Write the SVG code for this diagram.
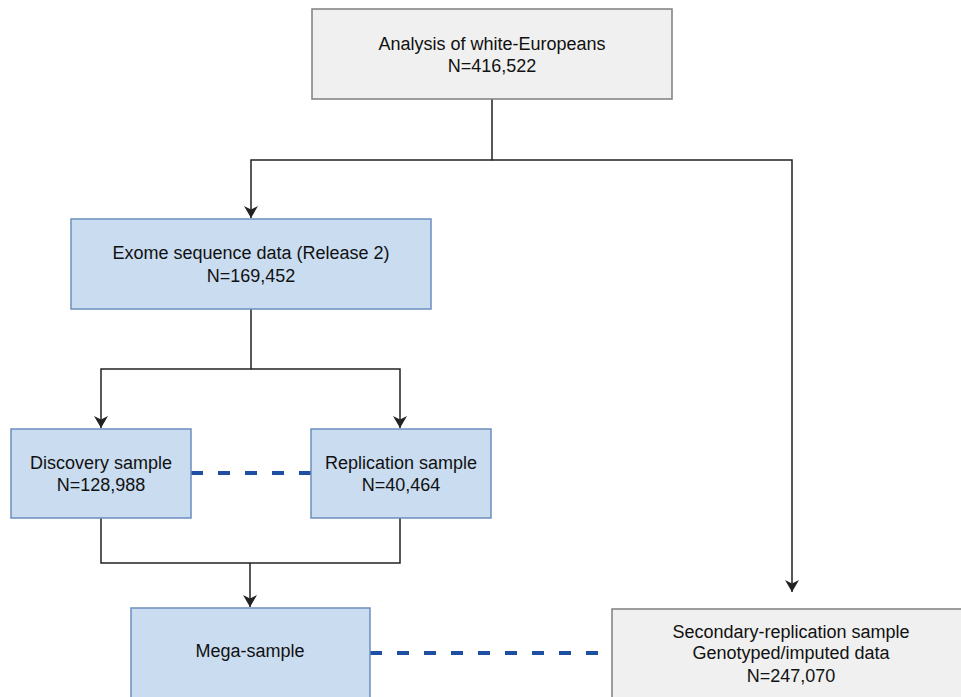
<svg xmlns="http://www.w3.org/2000/svg" width="961" height="697" viewBox="0 0 961 697">
<style>
.blue{fill:#c9dcf0;stroke:#6c8ebf;stroke-width:1.5}
.grey{fill:#eff0ef;stroke:#7f7f7f;stroke-width:1.5}
.t{font-family:"Liberation Sans",Arial,sans-serif;font-size:18px;fill:#111;text-anchor:middle}
.c{fill:none;stroke:#222;stroke-width:1.5}
.d{fill:none;stroke:#1f4fa3;stroke-width:4;stroke-dasharray:12 15}
</style>
<defs>
<marker id="ah" markerWidth="14" markerHeight="14" refX="12" refY="7" orient="auto" markerUnits="userSpaceOnUse">
<path d="M0,0 L12,7 L0,14 L3.5,7 Z" fill="#222"/>
</marker>
</defs>
<rect width="961" height="697" fill="#fff"/>
<g id="connectors">
<path class="c" d="M492,99 V160 H251 V218" marker-end="url(#ah)"/>
<path class="c" d="M492,160 H792 V592" marker-end="url(#ah)"/>
<path class="c" d="M251,309 V369 H101 V428" marker-end="url(#ah)"/>
<path class="c" d="M251,369 H400 V428" marker-end="url(#ah)"/>
<path class="c" d="M101,518 V563 H400 V518"/>
<path class="c" d="M250,563 V607" marker-end="url(#ah)"/>
<path class="d" d="M191,473 H311"/>
<path class="d" d="M370,653 H612"/>
</g>
<g id="n1">
<rect class="grey" x="312" y="9" width="360" height="90"/>
<text class="t" x="492" y="50">Analysis of white-Europeans</text>
<text class="t" x="492" y="72">N=416,522</text>
</g>
<g id="n2">
<rect class="blue" x="71" y="219" width="360" height="90"/>
<text class="t" x="251" y="259">Exome sequence data (Release 2)</text>
<text class="t" x="251" y="282">N=169,452</text>
</g>
<g id="n3">
<rect class="blue" x="11" y="429" width="180" height="89"/>
<text class="t" x="101" y="469">Discovery sample</text>
<text class="t" x="101" y="491">N=128,988</text>
</g>
<g id="n4">
<rect class="blue" x="311" y="429" width="180" height="89"/>
<text class="t" x="401" y="469">Replication sample</text>
<text class="t" x="401" y="491">N=40,464</text>
</g>
<g id="n5">
<rect class="blue" x="131" y="608" width="239" height="100"/>
<text class="t" x="250" y="657">Mega-sample</text>
</g>
<g id="n6">
<rect class="grey" x="612" y="609" width="360" height="100"/>
<text class="t" x="791" y="638">Secondary-replication sample</text>
<text class="t" x="791" y="659">Genotyped/imputed data</text>
<text class="t" x="791" y="682">N=247,070</text>
</g>
</svg>
